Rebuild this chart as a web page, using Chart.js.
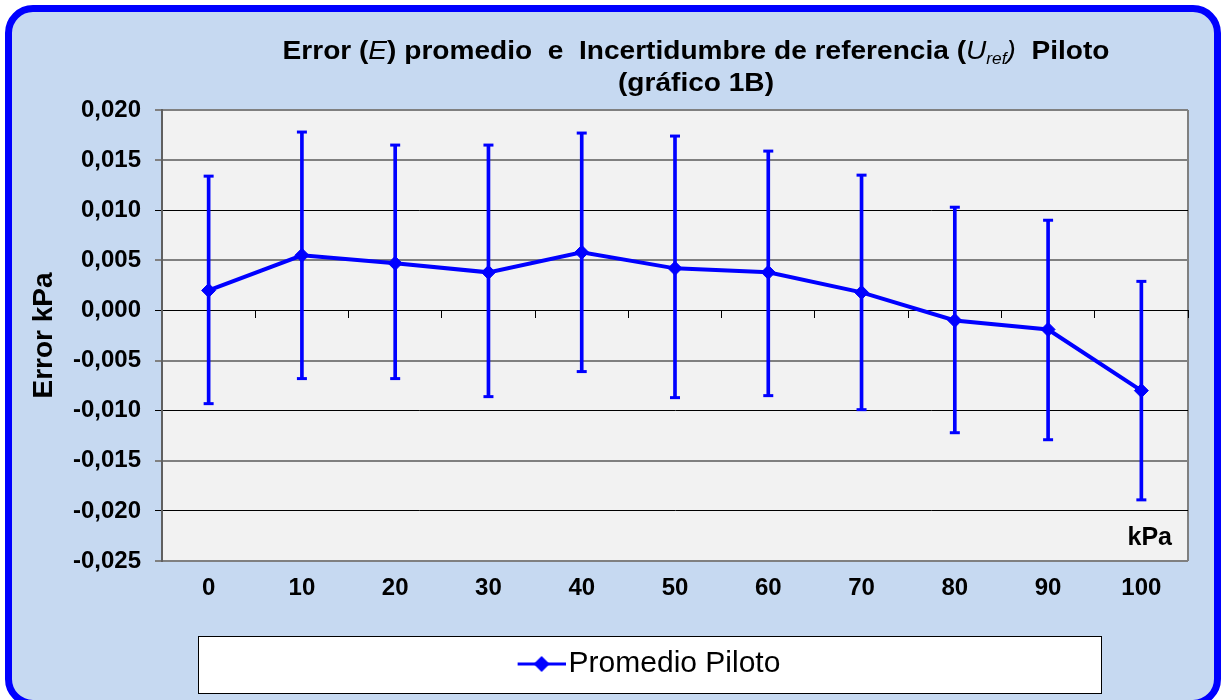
<!DOCTYPE html>
<html lang="es">
<head>
<meta charset="utf-8">
<title>Error promedio e Incertidumbre de referencia - Piloto</title>
<script src="https://cdn.jsdelivr.net/npm/chart.js"></script>
<style>
    html, body { margin: 0; padding: 0; background: #fff; overflow: hidden; }
    body { width: 1222px; height: 700px; position: relative; font-family: "Liberation Sans", Arial, sans-serif; }
    .card {
        position: absolute; left: 5px; top: 5px; width: 1216px; height: 702px;
        box-sizing: border-box; border: 7px solid #0000ff; border-radius: 28px; background: #c6d9f1;
    }
    .chart-title {
        position: absolute; left: 196px; top: 34px; width: 1000px; z-index: 2;
        text-align: center; font-size: 26px; line-height: 32px; font-weight: bold; color: #000;
        transform: scaleX(1.08); transform-origin: 500px 0;
    }
    .chart-title i { font-weight: normal; }
    .chart-title sub { font-size: 16px; line-height: 0; vertical-align: -5px; }
    #chart { position: absolute; left: 0; top: 0; z-index: 1; }
</style>
</head>
<body>
<div class="card"></div>
<div class="chart-title">Error (<i>E</i>) promedio&nbsp; e&nbsp; Incertidumbre de referencia (<i>U<sub>ref</sub>)</i>&nbsp; Piloto<br>(gráfico 1B)</div>
<canvas id="chart" width="1222" height="700"></canvas>
<script>
// Data
const categories = ['0', '10', '20', '30', '40', '50', '60', '70', '80', '90', '100'];
const errorValues = [0.0020, 0.0055, 0.0047, 0.0038, 0.0058, 0.0042, 0.0038, 0.0018, -0.0010, -0.0019, -0.0080];
const upperValues = [0.0134, 0.0178, 0.0165, 0.0165, 0.0177, 0.0174, 0.0159, 0.0135, 0.0103, 0.0090, 0.0029];
const lowerValues = [-0.0093, -0.0068, -0.0068, -0.0086, -0.0061, -0.0087, -0.0085, -0.0099, -0.0122, -0.0129, -0.0189];
const yTicks = [-0.025, -0.020, -0.015, -0.010, -0.005, 0, 0.005, 0.010, 0.015, 0.020];
const seriesLabel = 'Promedio Piloto';
const yAxisTitle = 'Error kPa';
const xUnitLabel = 'kPa';

// Styles
const BLUE = '#0000ff';
const GRAY = '#808080';
const gridColors = [GRAY, '#000', GRAY, '#000', GRAY, '#000', GRAY, '#000', GRAY, GRAY];
const gridWidths = [2, 1, 2, 1, 2, 1, 2, 1, 2, 2];

Chart.defaults.font.family = '"Liberation Sans", Arial, sans-serif';
Chart.defaults.color = '#000';

// Legend marker: line with a diamond, like the Excel legend
function makeLegendMarker() {
    const c = document.createElement('canvas');
    c.width = 58;
    c.height = 18;
    const g = c.getContext('2d');
    g.strokeStyle = BLUE;
    g.lineWidth = 3;
    g.beginPath();
    g.moveTo(10, 9);
    g.lineTo(58, 9);
    g.stroke();
    g.fillStyle = BLUE;
    g.beginPath();
    g.moveTo(34, 1);
    g.lineTo(42, 9);
    g.lineTo(34, 17);
    g.lineTo(26, 9);
    g.closePath();
    g.fill();
    return c;
}
const legendMarker = makeLegendMarker();

// Plot background, right border, legend box and unit label
const plotFrame = {
    id: 'plotFrame',
    afterLayout(chart) {
        const lg = chart.legend;
        lg.left = 198;
        lg.right = 1102;
        lg.width = 904;
    },
    beforeDraw(chart) {
        const { ctx, chartArea: a } = chart;
        ctx.save();
        ctx.fillStyle = '#f2f2f2';
        ctx.fillRect(a.left, a.top, a.right - a.left, a.bottom - a.top);
        ctx.strokeStyle = GRAY;
        ctx.lineWidth = 2;
        ctx.beginPath();
        ctx.moveTo(a.right, a.top);
        ctx.lineTo(a.right, a.bottom);
        ctx.stroke();

        const lg = chart.legend;
        ctx.fillStyle = '#fff';
        ctx.fillRect(lg.left, lg.top, lg.width, 58);
        ctx.strokeStyle = '#000';
        ctx.lineWidth = 1;
        ctx.strokeRect(lg.left + 0.5, lg.top + 0.5, lg.width - 1, 57);
        ctx.restore();
    },
    afterDatasetsDraw(chart) {
        const { ctx, chartArea: a } = chart;
        ctx.save();
        ctx.font = 'bold 25px "Liberation Sans", Arial, sans-serif';
        ctx.fillStyle = '#000';
        ctx.textAlign = 'right';
        ctx.textBaseline = 'alphabetic';
        ctx.fillText(xUnitLabel, a.right - 16, a.bottom - 16);
        ctx.restore();
    }
};

const ctx = document.getElementById('chart').getContext('2d');
new Chart(ctx, {
    type: 'line',
    data: {
        labels: categories,
        datasets: [
            {
                label: seriesLabel,
                data: errorValues,
                borderColor: BLUE,
                backgroundColor: BLUE,
                borderWidth: 4,
                pointStyle: 'rectRot',
                pointRadius: 7,
                pointBorderWidth: 1,
                pointBackgroundColor: BLUE,
                pointBorderColor: BLUE,
                tension: 0,
                xAxisID: 'x',
                yAxisID: 'y',
                order: 0
            },
            {
                // whiskers of the uncertainty bars
                type: 'bar',
                label: 'U',
                data: categories.map((c, i) => [lowerValues[i], upperValues[i]]),
                backgroundColor: BLUE,
                borderWidth: 0,
                barThickness: 3,
                xAxisID: 'x',
                yAxisID: 'y',
                order: 2
            },
            {
                label: 'cap high',
                data: upperValues,
                showLine: false,
                pointStyle: 'line',
                pointRadius: 5,
                pointBorderWidth: 3,
                pointBorderColor: BLUE,
                borderColor: BLUE,
                xAxisID: 'x',
                yAxisID: 'y',
                order: 1
            },
            {
                label: 'cap low',
                data: lowerValues,
                showLine: false,
                pointStyle: 'line',
                pointRadius: 5,
                pointBorderWidth: 3,
                pointBorderColor: BLUE,
                borderColor: BLUE,
                xAxisID: 'x',
                yAxisID: 'y',
                order: 1
            }
        ]
    },
    options: {
        responsive: false,
        animation: false,
        events: [],
        layout: { padding: { left: 20, right: 34, top: 110, bottom: 11 } },
        scales: {
            x: {
                type: 'category',
                position: 'bottom',
                offset: true,
                grid: { display: false, drawTicks: false },
                border: { display: false },
                ticks: { font: { size: 24, weight: 'bold' }, color: '#000', padding: 13 },
                afterFit: scale => { scale.height = 75; }
            },
            x0: {
                // axis line at zero with tick marks between categories
                type: 'category',
                position: { y: 0 },
                offset: true,
                grid: { offset: true, drawOnChartArea: false, drawTicks: true, tickLength: 7, color: '#000', lineWidth: 1 },
                border: { display: true, color: '#000', width: 1 },
                ticks: { display: false }
            },
            y: {
                type: 'linear',
                min: -0.025,
                max: 0.020,
                afterBuildTicks: scale => { scale.ticks = yTicks.map(v => ({ value: v })); },
                grid: {
                    color: c => gridColors[c.index],
                    lineWidth: c => gridWidths[c.index],
                    tickLength: 7
                },
                border: { color: '#606060', width: 2 },
                ticks: {
                    font: { size: 24, weight: 'bold' },
                    color: '#000',
                    padding: 14,
                    callback: v => v.toFixed(3).replace('.', ',')
                },
                title: {
                    display: true,
                    text: yAxisTitle,
                    font: { size: 28, weight: 'bold' },
                    color: '#000',
                    padding: { top: 7, bottom: 0 }
                },
                afterFit: scale => { scale.width = 142; }
            }
        },
        plugins: {
            tooltip: { enabled: false },
            title: { display: false },
            legend: {
                display: true,
                position: 'bottom',
                labels: {
                    usePointStyle: true,
                    pointStyleWidth: 34,
                    padding: 13,
                    color: '#000',
                    font: { size: 30 },
                    filter: item => item.datasetIndex === 0,
                    generateLabels: chart => {
                        const items = Chart.defaults.plugins.legend.labels.generateLabels(chart);
                        items.forEach(item => { item.pointStyle = legendMarker; });
                        return items;
                    }
                }
            }
        }
    },
    plugins: [plotFrame]
});
</script>
</body>
</html>
